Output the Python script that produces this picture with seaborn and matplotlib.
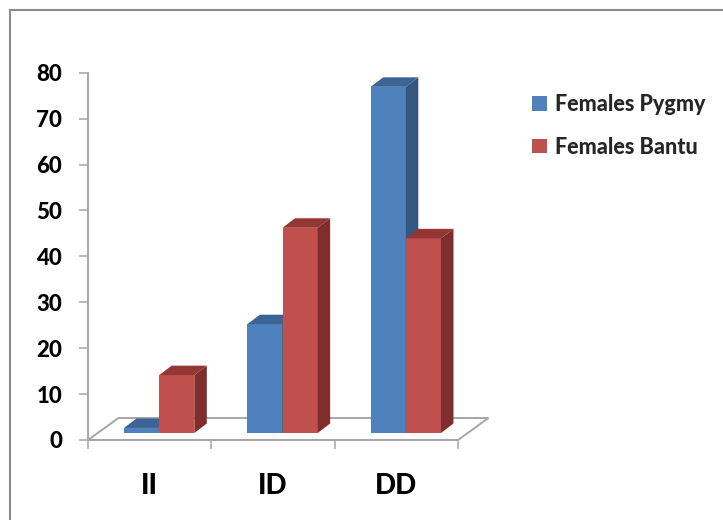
import matplotlib
matplotlib.use("Agg")
import matplotlib.pyplot as plt
from matplotlib.patches import Polygon, Rectangle
import numpy as np
import pandas as pd
import seaborn as sns

# Data
genotypes = ["II", "ID", "DD"]
series = ["Females Pygmy", "Females Bantu"]
pygmy = [1.1, 23.7, 75.4]
bantu = [12.6, 44.7, 42.4]
y_ticks = [0, 10, 20, 30, 40, 50, 60, 70, 80]

front_colors = ["#4F81BD", "#C0504D"]
side_colors = ["#34577F", "#7E2F2D"]
top_colors = ["#3C6494", "#943634"]
grid_gray = "#A6A6A6"

df = pd.DataFrame({
    "genotype": genotypes * 2,
    "group": [series[0]] * 3 + [series[1]] * 3,
    "value": pygmy + bantu,
})

sns.set_style("white")
plt.rcParams["font.family"] = ["Lato", "DejaVu Sans"]
WEIGHT = 900

W, H = 723, 520
fig = plt.figure(figsize=(W / 100, H / 100), dpi=100)
fig.patch.set_facecolor("white")

# axes: x from 88 to 458 px, y zero at 440 px, 80 at 72.7 px
ax = fig.add_axes([88 / W, (H - 440) / H, 370 / W, (440 - 72.7) / H])
ax.set_facecolor("none")

sns.barplot(data=df, x="genotype", y="value", hue="group", order=genotypes,
            hue_order=series, palette=front_colors, width=0.57, saturation=1,
            ax=ax, legend=True, linewidth=0, zorder=3)

ax.set_xlim(-0.5, 2.5)
ax.set_ylim(0, 80)

# pixel -> data conversion for the pseudo-3D depth
px_x = 370 / 3.0
px_y = (440 - 72.7) / 80.0
off_x, off_y = 9.5 / px_x, 7.0 / px_y        # bars sit a little back on the floor
dep_x, dep_y = 12.5 / px_x, 9.5 / px_y       # bar depth
floor_x, floor_y = 30.5 / px_x, 22.0 / px_y  # floor depth

# floor
floor = Polygon([(-0.5, 0), (2.5, 0), (2.5 + floor_x, floor_y), (-0.5 + floor_x, floor_y)],
                closed=True, facecolor="white", edgecolor=grid_gray, lw=1.4,
                zorder=1, clip_on=False)
ax.add_patch(floor)

for k, cont in enumerate(ax.containers):
    for bar in cont:
        x0, w, h = bar.get_x(), bar.get_width(), bar.get_height()
        xl, xr = x0 + off_x, x0 + w + off_x
        b, t = off_y, off_y + h
        bar.set_x(xl)
        bar.set_y(b)
        bar.set_zorder(3 + 3 * k)
        bar.set_clip_on(False)
        side = Polygon([(xr, b), (xr + dep_x, b + dep_y), (xr + dep_x, t + dep_y), (xr, t)],
                       closed=True, facecolor=side_colors[k], edgecolor="none",
                       zorder=4 + 3 * k, clip_on=False)
        top = Polygon([(xl, t), (xl + dep_x, t + dep_y), (xr + dep_x, t + dep_y), (xr, t)],
                      closed=True, facecolor=top_colors[k], edgecolor="none",
                      zorder=5 + 3 * k, clip_on=False)
        ax.add_patch(side)
        ax.add_patch(top)

# axes styling
for s in ["top", "right"]:
    ax.spines[s].set_visible(False)
for s in ["left", "bottom"]:
    ax.spines[s].set_color(grid_gray)
    ax.spines[s].set_linewidth(1.4)
    ax.spines[s].set_zorder(2)

ax.set_yticks(y_ticks)
ax.set_yticklabels([str(v) for v in y_ticks], fontsize=16, fontweight=WEIGHT)
ax.tick_params(axis="y", direction="out", length=6.5, width=1.1, color=grid_gray,
               pad=12, labelcolor="black", left=True)

ax.set_xticks(range(len(genotypes)))
ax.set_xticklabels(genotypes, fontsize=20, fontweight=WEIGHT)
ax.tick_params(axis="x", which="major", length=0, pad=24, labelcolor="black")
ax.set_xticks([-0.5, 0.5, 1.5, 2.5], minor=True)
ax.tick_params(axis="x", which="minor", direction="out", length=6.5, width=1.1,
               color=grid_gray, bottom=True)
ax.set_xlabel("")
ax.set_ylabel("")

# legend
sns.move_legend(ax, "upper left", bbox_to_anchor=(532 / W, 1 - 94 / H),
                bbox_transform=fig.transFigure, frameon=False, title=None,
                borderpad=0, borderaxespad=0, handlelength=0.68, handleheight=0.68,
                handletextpad=0.38, labelspacing=1.0,
                prop={"family": ["Lato", "DejaVu Sans"], "weight": WEIGHT, "size": 15.5})
for hnd in ax.get_legend().legend_handles:
    hnd.set_edgecolor("none")

# outer chart frame
fig.add_artist(Rectangle((10 / W, -0.2), 1.2, 1.2 - 10 / H, transform=fig.transFigure,
                         fill=False, edgecolor="#8C8C8C", lw=1.5, clip_on=False))

fig.savefig("out.png", dpi=100, facecolor="white")
